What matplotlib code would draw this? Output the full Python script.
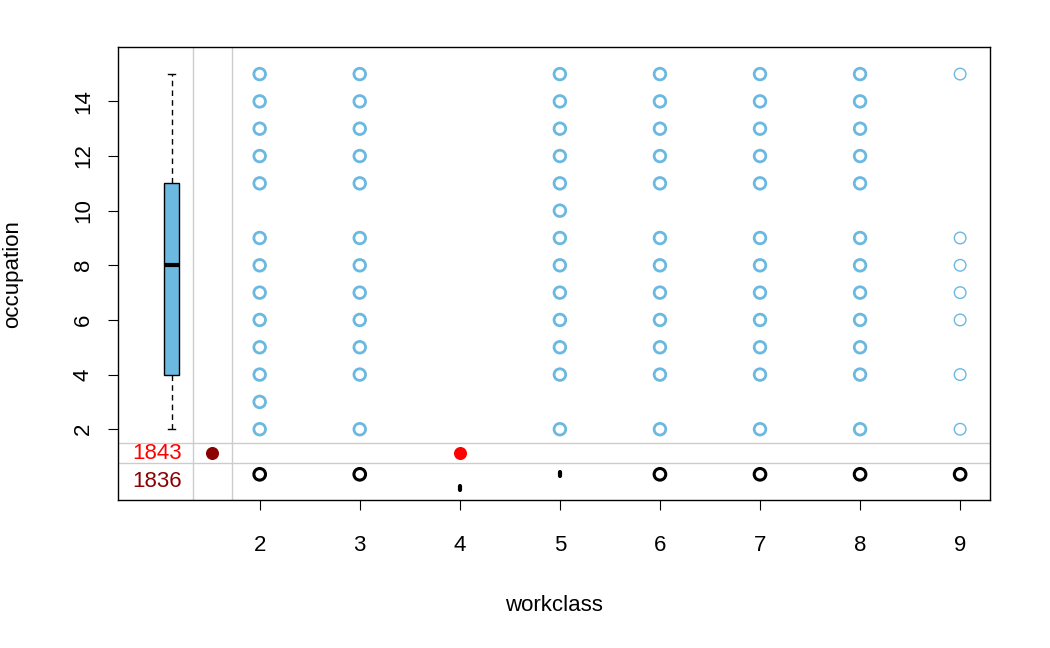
import matplotlib.pyplot as plt

# observed (workclass, occupation) pairs
occ_by_wc = {
    2: [2, 3, 4, 5, 6, 7, 8, 9, 11, 12, 13, 14, 15],
    3: [2, 4, 5, 6, 7, 8, 9, 11, 12, 13, 14, 15],
    5: [2, 4, 5, 6, 7, 8, 9, 10, 11, 12, 13, 14, 15],
    6: [2, 4, 5, 6, 7, 8, 9, 11, 12, 13, 14, 15],
    7: [2, 4, 5, 6, 7, 8, 9, 11, 12, 13, 14, 15],
    8: [2, 4, 5, 6, 7, 8, 9, 11, 12, 13, 14, 15],
    9: [2, 4, 6, 7, 8, 9, 15],
}
# workclass values where occupation is missing
wc_occ_missing = [2, 3, 6, 7, 8, 9]
occ_box = dict(whislo=2, q1=4, med=8, q3=11, whishi=15)
n_missing_occ = 1843
n_missing_both = 1836

blue = '#6BB8E0'
plt.rcParams['font.family'] = ['Liberation Sans', 'DejaVu Sans']
fig, ax = plt.subplots(figsize=(10.5, 6.48), dpi=100)
fig.subplots_adjust(left=0.112, right=0.943, top=0.927, bottom=0.228)

for wc, occs in occ_by_wc.items():
    lw = 1.0 if wc == 9 else 2.0
    ax.scatter([wc] * len(occs), occs, s=70, facecolors='none', edgecolors=blue, linewidths=lw, zorder=3)

ax.scatter(wc_occ_missing, [0.35] * len(wc_occ_missing), s=70, facecolors='none', edgecolors='black', linewidths=2.2, zorder=3)
ax.plot([5, 5], [0.28, 0.42], color='black', lw=3, solid_capstyle='round')
ax.plot([4, 4], [-0.22, -0.08], color='black', lw=3, solid_capstyle='round')

ax.scatter([4], [1.12], s=70, color='red', zorder=3)
ax.scatter([1.52], [1.12], s=70, color='#8B0000', zorder=3)

ax.bxp([occ_box], positions=[1.12], widths=0.15, showfliers=False, patch_artist=True,
       boxprops=dict(facecolor=blue, edgecolor='black', lw=1),
       medianprops=dict(color='black', lw=3),
       whiskerprops=dict(color='black', ls=(0, (4, 3)), lw=1),
       capprops=dict(color='black', lw=1), capwidths=0.07, manage_ticks=False)

for xv in (1.33, 1.72):
    ax.axvline(xv, color='#CCCCCC', lw=1, zorder=1)
for yv in (1.49, 0.76):
    ax.axhline(yv, color='#CCCCCC', lw=1, zorder=1)

ax.text(1.22, 1.12, str(n_missing_occ), color='red', ha='right', va='center', fontsize=16)
ax.text(1.22, 0.07, str(n_missing_both), color='#8B0000', ha='right', va='center', fontsize=16)

ax.set_xlim(0.58, 9.3)
ax.set_ylim(-0.6, 15.98)
ax.set_xticks(range(2, 10))
ax.set_yticks(range(2, 15, 2))
ax.set_yticklabels([str(v) for v in range(2, 15, 2)], rotation=90, va='center')
ax.tick_params(labelsize=16, length=7)
ax.tick_params(axis='x', pad=18)
ax.tick_params(axis='y', pad=10)
ax.set_xlabel('workclass', fontsize=16, labelpad=28)
ax.set_ylabel('occupation', fontsize=16, labelpad=36)
for s in ax.spines.values():
    s.set_linewidth(1)

plt.savefig('out.png')
